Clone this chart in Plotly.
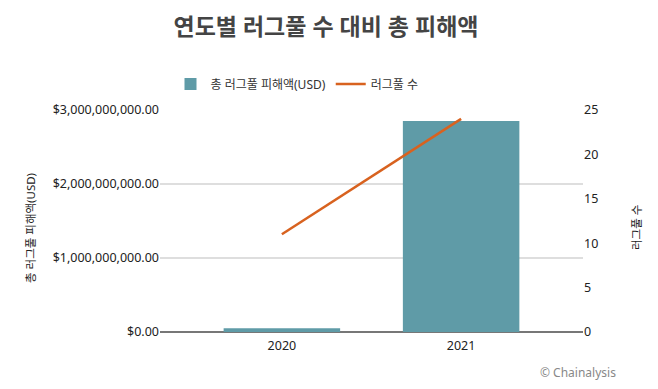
import plotly.graph_objects as go

years = ["2020", "2021"]
damage_usd = [5.0e7, 2.85e9]
rugpull_counts = [11, 24]
left_ticks = [0, 1e9, 2e9, 3e9]
right_ticks = [0, 5, 10, 15, 20, 25]

FONT = "Noto Sans, Noto Sans CJK KR, sans-serif"

# page has 8px body margin; compensate
L, R, T, B = 152, 83, 102, 65
W, H = 658, 389
PW, PH = W - L - R, H - T - B


def px_x(page_x):
    return (page_x - 8 - L) / PW


def px_y(page_y):
    return 1 - (page_y - 8 - T) / PH


fig = go.Figure()
fig.add_trace(go.Bar(
    x=years, y=damage_usd, name="총 러그풀 피해액(USD)",
    marker=dict(color="#5f9ba7", line=dict(width=0)), width=0.65,
    yaxis="y"))
fig.add_trace(go.Scatter(
    x=years, y=rugpull_counts, name="러그풀 수", mode="lines",
    line=dict(color="#d8621f", width=2.5), yaxis="y2"))

fig.update_layout(
    width=W, height=H,
    margin=dict(l=L, r=R, t=T, b=B),
    paper_bgcolor="white", plot_bgcolor="white",
    font=dict(family=FONT, size=12, color="#222"),
    title=dict(text="<b>연도별 러그풀 수 대비 총 피해액</b>", x=318 / W, xanchor="center",
               y=1 - 19 / H, yanchor="middle",
               font=dict(family=FONT, size=23, color="#444")),
    showlegend=True,
    legend=dict(orientation="h", x=px_x(297), xanchor="center", y=px_y(84), yanchor="middle",
                font=dict(size=12, color="#333"), traceorder="normal"),
    xaxis=dict(type="category", range=[-0.68, 1.68], showgrid=False,
               showline=False, ticks="", tickfont=dict(size=12.5, color="#222"),
               ticklabelstandoff=4),
    yaxis=dict(range=[0, 3e9], tickvals=left_ticks, tickformat="$,.2f",
               showgrid=True, gridcolor="#dedede", gridwidth=2,
               zeroline=True, zerolinecolor="#777", zerolinewidth=2,
               ticks="", tickfont=dict(size=12.5, color="#222")),
    yaxis2=dict(range=[0, 25], tickvals=right_ticks, overlaying="y", side="right",
                showgrid=False, zeroline=False, ticks="",
                tickfont=dict(size=12.5, color="#222")),
    annotations=[
        dict(text="총 러그풀 피해액(USD)", textangle=-90, x=px_x(30), y=px_y(228),
             xref="paper", yref="paper", showarrow=False,
             font=dict(size=11.5, color="#222"), xanchor="center", yanchor="middle"),
        dict(text="러그풀 수", textangle=-90, x=px_x(636), y=px_y(228),
             xref="paper", yref="paper", showarrow=False,
             font=dict(size=11.5, color="#222"), xanchor="center", yanchor="middle"),
        dict(text="© Chainalysis", x=px_x(618), y=px_y(372), xref="paper", yref="paper",
             showarrow=False, font=dict(size=12, color="#888"),
             xanchor="right", yanchor="middle"),
    ],
)

fig.write_html("out.html")
